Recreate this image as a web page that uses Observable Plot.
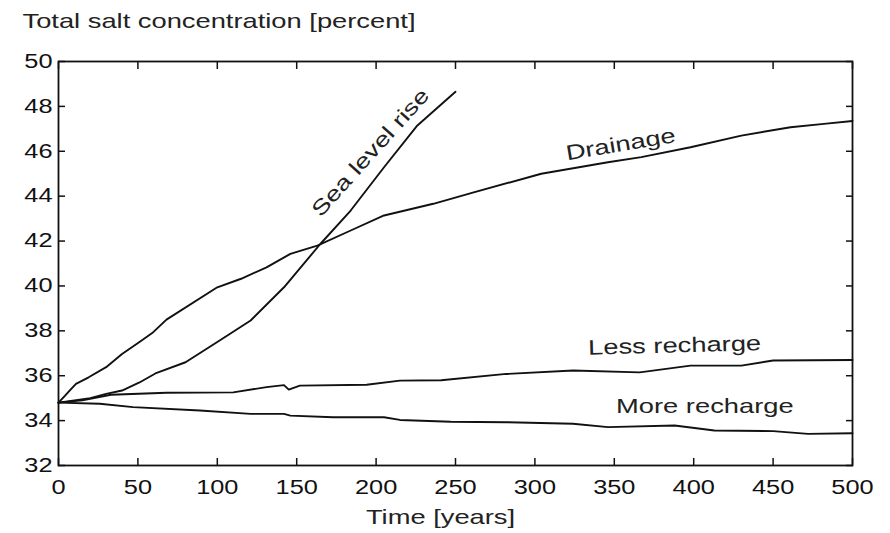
<!DOCTYPE html>
<html>
<head>
<meta charset="utf-8">
<script src="https://cdn.jsdelivr.net/npm/d3@7"></script>
<script src="https://cdn.jsdelivr.net/npm/@observablehq/plot@0.6"></script>
<style>
  html, body { margin: 0; padding: 0; background: #fff; }
  svg { display: block; }
</style>
</head>
<body>
<div id="chart"></div>
<script>
// ---- data ----
const seaT = [0, 20, 30, 40, 51, 61, 80, 100, 121, 142, 165, 184, 205, 226, 250];
const seaV = [34.8, 35.0, 35.19, 35.34, 35.7, 36.1, 36.6, 37.5, 38.46, 39.94, 41.88, 43.36, 45.29, 47.15, 48.65];

const drainT = [0, 4, 7, 11, 19, 30, 40, 51, 59, 68, 100, 115, 131, 146, 163, 184, 205, 236, 262, 304, 346, 367, 398, 430, 461, 482, 500];
const drainV = [34.8, 35.1, 35.34, 35.64, 35.93, 36.38, 36.97, 37.5, 37.9, 38.5, 39.94, 40.32, 40.83, 41.43, 41.8, 42.47, 43.14, 43.66, 44.18, 45.0, 45.51, 45.74, 46.18, 46.7, 47.07, 47.22, 47.35];

const lessT = [0, 15, 33, 68, 110, 131, 142, 145, 152, 194, 215, 241, 282, 324, 366, 398, 430, 450, 500];
const lessV = [34.8, 34.9, 35.15, 35.24, 35.26, 35.49, 35.58, 35.38, 35.56, 35.6, 35.78, 35.8, 36.08, 36.23, 36.15, 36.45, 36.45, 36.68, 36.7];

const moreT = [0, 26, 47, 89, 121, 142, 146, 173, 205, 215, 247, 282, 324, 346, 388, 413, 450, 472, 500];
const moreV = [34.8, 34.75, 34.6, 34.45, 34.3, 34.3, 34.22, 34.15, 34.15, 34.03, 33.95, 33.93, 33.86, 33.71, 33.78, 33.56, 33.53, 33.41, 33.44];

const labelNames = ["Sea level rise", "Drainage", "Less recharge", "More recharge"];
const labelT = [196.5, 354, 388, 407];
const labelV = [45.94, 46.3, 37.34, 34.63];
const labelAngle = [-48, -9.5, -1.5, 0];

const xTicks = [0, 50, 100, 150, 200, 250, 300, 350, 400, 450, 500];
const yTicks = [32, 34, 36, 38, 40, 42, 44, 46, 48, 50];

const titleText = "Total salt concentration [percent]";
const xLabelText = "Time [years]";

// ---- tables ----
const toRows = (T, V) => T.map((t, i) => ({t, v: V[i]}));
const series = [toRows(seaT, seaV), toRows(drainT, drainV), toRows(lessT, lessV), toRows(moreT, moreV)];
const labels = labelNames.map((name, i) => ({name, t: labelT[i], v: labelV[i], a: labelAngle[i]}));

const ink = "#111";
const plot = Plot.plot({
  width: 890,
  height: 533,
  marginLeft: 58,
  marginRight: 38,
  marginTop: 61,
  marginBottom: 68,
  style: {fontFamily: "Liberation Sans, Arial, sans-serif", background: "#fff", color: ink},
  x: {domain: [0, 500], axis: null},
  y: {domain: [32, 50], axis: null},
  marks: [
    ...series.map(rows => Plot.line(rows, {x: "t", y: "v", stroke: ink, strokeWidth: 1.9})),
    Plot.axisY({ticks: yTicks, anchor: "left", tickSize: 7, dx: 7, tickPadding: 6, label: null, fontSize: 19.5, stroke: ink, strokeWidth: 1.5, fill: ink}),
    Plot.axisY({ticks: yTicks, anchor: "right", tickSize: 7, dx: -7, tickFormat: () => "", label: null, stroke: ink, strokeWidth: 1.5}),
    Plot.axisX({ticks: xTicks, anchor: "bottom", tickSize: 7, dy: -7, tickPadding: 15, label: null, fontSize: 19.5, stroke: ink, strokeWidth: 1.5, fill: ink}),
    Plot.axisX({ticks: xTicks, anchor: "top", tickSize: 7, dy: 7, tickFormat: () => "", label: null, stroke: ink, strokeWidth: 1.5}),
    Plot.frame({stroke: ink, strokeWidth: 1.8}),
    Plot.text(labels, {x: "t", y: "v", text: "name", rotate: "a", fontSize: 21, fill: "#222"}),
    Plot.text([titleText], {text: d => d, frameAnchor: "top-left", textAnchor: "start", lineAnchor: "top", dx: -36, dy: -48, fontSize: 21, fill: "#222"}),
    Plot.text([xLabelText], {text: d => d, frameAnchor: "bottom", lineAnchor: "bottom", dx: -15, dy: 58.5, fontSize: 21, fill: "#222"})
  ]
});

document.getElementById("chart").appendChild(plot);

// The reference's lettering is horizontally stretched; widen each text along its own direction.
const S = 1.3;
plot.querySelectorAll("text").forEach(el => {
  if (!el.textContent) return;
  const L = el.getComputedTextLength();
  if (L > 0) {
    el.setAttribute("textLength", (L * S).toFixed(2));
    el.setAttribute("lengthAdjust", "spacingAndGlyphs");
  }
});
</script>
</body>
</html>
